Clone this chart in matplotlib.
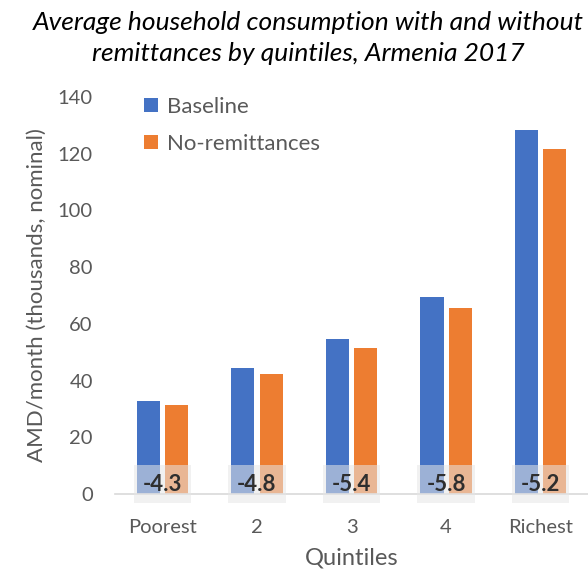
import matplotlib.pyplot as plt
import numpy as np

quintiles = ["Poorest", "2", "3", "4", "Richest"]
baseline = [32.8, 44.4, 54.7, 69.5, 128.3]
no_remit = [31.4, 42.2, 51.6, 65.6, 121.6]
pct_change = ["-4.3", "-4.8", "-5.4", "-5.8", "-5.2"]

plt.rcParams['font.family'] = ['Lato', 'DejaVu Sans']

fig = plt.figure(figsize=(5.88, 5.71), dpi=100)
ax = fig.add_axes([0.1956, 0.1349, 0.8044, 0.6953])

x = np.arange(len(quintiles))
w = 0.245
ax.bar(x - 0.15, baseline, w, color="#4472c4", label="Baseline")
ax.bar(x + 0.15, no_remit, w, color="#ed7d31", label="No-remittances")

# percent change labels with translucent boxes
for i, t in enumerate(pct_change):
    ax.text(x[i], 3.5, t, ha="center", va="center", fontsize=16,
            fontweight="bold", color="#2e2e2e",
            bbox=dict(boxstyle="square,pad=0.4", facecolor="#e6e6e6",
                      edgecolor="none", alpha=0.55))

ax.set_xlim(-0.5, 4.5)
ax.set_ylim(0, 140)
ax.set_yticks(range(0, 141, 20))
ax.set_xticks(x)
ax.set_xticklabels(quintiles)
ax.tick_params(axis="both", length=0, labelsize=14.5, colors="#595959")
ax.tick_params(axis="y", pad=16)
ax.tick_params(axis="x", pad=18)
for s in ["top", "right", "left"]:
    ax.spines[s].set_visible(False)
ax.spines["bottom"].set_color("#d9d9d9")
ax.spines["bottom"].set_linewidth(1.2)

ax.set_ylabel("AMD/month (thousands, nominal)", fontsize=16, color="#595959", labelpad=8)
ax.set_xlabel("Quintiles", fontsize=17, color="#595959", labelpad=8)

ax.legend(loc="upper left", bbox_to_anchor=(0.02, 1.05), frameon=False,
          fontsize=16, labelcolor="#595959", handlelength=0.6, handleheight=0.6,
          handletextpad=0.4, labelspacing=0.75)

fig.text(0.525, 0.96, "Average household consumption with and without",
         ha="center", va="center", fontsize=19, style="italic", color="#000000")
fig.text(0.525, 0.906, "remittances by quintiles, Armenia 2017",
         ha="center", va="center", fontsize=19, style="italic", color="#000000")

fig.savefig("out.png", dpi=100)
